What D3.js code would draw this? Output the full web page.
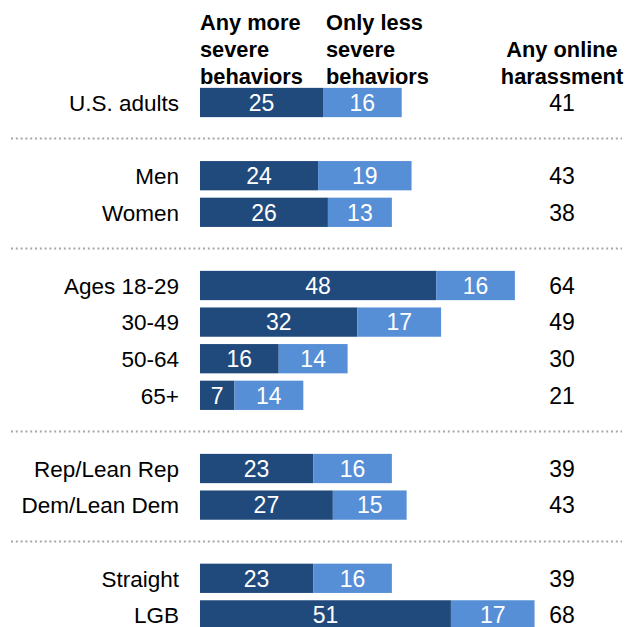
<!DOCTYPE html>
<html>
<head>
<meta charset="utf-8">
<script src="https://cdn.jsdelivr.net/npm/d3@7"></script>
<style>
  html, body { margin: 0; padding: 0; background: #fff; }
  svg { display: block; }
  text { font-family: "Liberation Sans", Arial, sans-serif; }
</style>
</head>
<body>
<svg id="chart" width="626" height="627"></svg>
<script>
const categories = ["U.S. adults", "Men", "Women", "Ages 18-29", "30-49", "50-64", "65+",
                    "Rep/Lean Rep", "Dem/Lean Dem", "Straight", "LGB"];
const groupSizes = [1, 2, 4, 2, 2];
const moreSevere = [25, 24, 26, 48, 32, 16, 7, 23, 27, 23, 51];
const lessSevere = [16, 19, 13, 16, 17, 14, 14, 16, 15, 16, 17];
const anyHarassment = [41, 43, 38, 64, 49, 30, 21, 39, 43, 39, 68];
const seriesLabels = [["Any more", "severe", "behaviors"], ["Only less", "severe", "behaviors"]];
const totalLabel = ["Any online", "harassment"];

const darkBlue = "#214a7c";
const lightBlue = "#568fd6";

const svg = d3.select("#chart");

const slots = [];
const gapSlots = [];
let ci = 0;
groupSizes.forEach((n, gi) => {
  if (gi > 0) { const g = "gap" + gi; slots.push(g); gapSlots.push(g); }
  for (let k = 0; k < n; k++) slots.push(categories[ci++]);
});

const x = d3.scaleLinear().domain([0, 100]).range([200, 692]);
const y = d3.scaleBand().domain(slots).range([84.2, 633.2]).paddingInner(0.2).paddingOuter(0.1);
const bh = y.bandwidth();
const center = c => y(c) + bh / 2;

svg.append("g").selectAll("line").data(gapSlots).join("line")
  .attr("x1", 11).attr("x2", 622)
  .attr("y1", d => Math.round(center(d)) - 0.5)
  .attr("y2", d => Math.round(center(d)) - 0.5)
  .attr("stroke", "#a6a6a6").attr("stroke-width", 2)
  .attr("stroke-dasharray", "2,2.8");

const rows = categories.map((c, i) => ({ c, a: moreSevere[i], b: lessSevere[i], t: anyHarassment[i] }));

const g = svg.append("g");
g.selectAll("rect.a").data(rows).join("rect").attr("class", "a")
  .attr("x", x(0)).attr("y", d => y(d.c))
  .attr("width", d => x(d.a) - x(0)).attr("height", bh)
  .attr("fill", darkBlue);
g.selectAll("rect.b").data(rows).join("rect").attr("class", "b")
  .attr("x", d => x(d.a)).attr("y", d => y(d.c))
  .attr("width", d => x(d.a + d.b) - x(d.a)).attr("height", bh)
  .attr("fill", lightBlue);

const numSize = 23, labSize = 22.5, base = 8.2;

g.selectAll("text.va").data(rows).join("text").attr("class", "va")
  .attr("x", d => (x(0) + x(d.a)) / 2).attr("y", d => center(d.c) + base)
  .attr("text-anchor", "middle").attr("fill", "#fff").attr("font-size", numSize)
  .text(d => d.a);
g.selectAll("text.vb").data(rows).join("text").attr("class", "vb")
  .attr("x", d => (x(d.a) + x(d.a + d.b)) / 2).attr("y", d => center(d.c) + base)
  .attr("text-anchor", "middle").attr("fill", "#fff").attr("font-size", numSize)
  .text(d => d.b);

g.selectAll("text.lab").data(rows).join("text").attr("class", "lab")
  .attr("x", 179).attr("y", d => center(d.c) + base)
  .attr("text-anchor", "end").attr("fill", "#000").attr("font-size", labSize)
  .text(d => d.c);

g.selectAll("text.tot").data(rows).join("text").attr("class", "tot")
  .attr("x", 562).attr("y", d => center(d.c) + base)
  .attr("text-anchor", "middle").attr("fill", "#000").attr("font-size", numSize)
  .text(d => d.t);

const hdr = svg.append("g").attr("font-weight", "bold").attr("font-size", 21.8).attr("fill", "#000");
const hx = [x(0), x(moreSevere[0]) + 3];
seriesLabels.forEach((lines, si) => {
  hdr.append("text").attr("x", hx[si]).attr("y", 30)
    .selectAll("tspan").data(lines).join("tspan")
    .attr("x", hx[si]).attr("dy", (d, i) => i === 0 ? 0 : 27).text(d => d);
});
hdr.append("text").attr("x", 562).attr("y", 57).attr("text-anchor", "middle")
  .selectAll("tspan").data(totalLabel).join("tspan")
  .attr("x", 562).attr("dy", (d, i) => i === 0 ? 0 : 27).text(d => d);
</script>
</body>
</html>
